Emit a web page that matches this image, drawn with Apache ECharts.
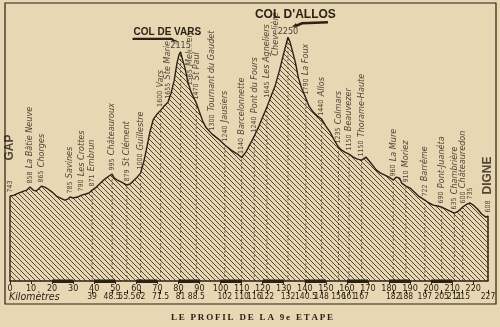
<!DOCTYPE html>
<html><head><meta charset="utf-8">
<script src="https://cdn.jsdelivr.net/npm/echarts@6/dist/echarts.min.js"></script>
<style>html,body{margin:0;padding:0;background:#e7d7b2;}#c{width:500px;height:327px;}</style>
</head><body><div id="c"></div>
<script>
// ---- profile (km, drawn altitude in m) ----
const profileKm = [0,2,4,6.5,8,9.5,11,12.5,14,15,16.5,18,20,22,24,26,27.5,28.5,30,32,34,36,37.5,39,41,43,45,47,48.5,49.5,51,53,55.5,57,58.5,60,62,63.5,65,66.5,68,70,71.5,73,75,76.5,78,79.3,80.2,81,82,83,84.5,86,88.5,90,91.5,93,96,99,102,105,108,110,112,114,116,118,120,122,124,126,128,130,131,132,133,134,135.5,137,138.5,140.5,142,144,146,148,150,152,154,156,157.5,159,161,163,165,167,169,171,172.5,174,176,178,180,182,183.5,185,186,188,190,192,194,197,199,201,203,205,207,209,211,213,215,217,218.5,220,222,224,226,227];
const profileAlt = [784,793,812,830,839,867,839,830,858,876,867,849,821,784,766,747,756,775,766,775,793,803,812,839,867,904,941,969,987,950,932,913,886,895,922,950,996,1098,1236,1380,1490,1545,1575,1610,1650,1734,1854,2011,2085,2115,2039,1974,1836,1743,1642,1559,1476,1420,1356,1310,1255,1208,1172,1140,1190,1264,1338,1420,1513,1605,1707,1808,1946,2103,2177,2250,2205,2131,2020,1873,1780,1688,1614,1559,1522,1494,1430,1375,1301,1236,1208,1190,1172,1144,1125,1116,1144,1098,1061,1024,996,978,959,932,959,950,904,876,858,821,784,747,720,701,692,683,664,646,627,646,683,710,720,701,664,618,590,600];

// ---- localities ----
const placeKm   = [0,9.5,15,28.5,34,39,48.5,55.5,62,71.5,75,85.5,88.5,96,102,110,116,122,126,140.5,148,156,161,167,182,188,197,205,211,215,218.5,227];
const placeAltTxt = ['743','858','865','785','790','871','995','879','1000','1600','1655','1565','1470','1300','1240','1140','1240','1645','','1790','1440','1235','1150','1150','960','910','722','690','635','600','735','608'];
const placeName = ['GAP','La Bâtie Neuve','Chorges','Savines','Les Crottes','Embrun','Châteauroux','St Clément','Guillestre','Vars','Ste Marie','Melezen','St Paul','Tournant du Gaudet','Jausiers','Barcelonnette','Pont du Fours','Les Agneliers','Chevelière','La Foux','Allos','Colmars','Beauvezer','Thorame-Haute','La Mure','Moriez','Barrême','Pont-Juanéta','Chambrière','Châteauredon','','DIGNE'];
const peakKm = [81,132];
const peakTxt = ['2115','2250'];
const peakName = ['COL DE VARS',"COL D'ALLOS"];

// ---- axes ----
const tickKm = [0,10,20,30,40,50,60,70,80,90,100,110,120,130,140,150,160,170,180,190,200,210,220];
const markKm = [39,48.5,55.5,62,71.5,81,88.5,102,110,116,122,132,140.5,148,156,161,167,182,188,197,205,211,215,227];
const scaleBarStart = [20,40,60,80,100,120,140,160,180,200];
const scaleBarLen = 10;

const INK = '#2b2118';
const FN = "'Liberation Sans Narrow','DejaVu Sans Condensed','Liberation Sans',sans-serif";
const labelLift = {'Chevelière':26,'Les Agneliers':6};

function altAt(k){
  for (let i=0;i<profileKm.length-1;i++){
    if (k>=profileKm[i] && k<=profileKm[i+1]){
      const t=(k-profileKm[i])/(profileKm[i+1]-profileKm[i]);
      return profileAlt[i]+t*(profileAlt[i+1]-profileAlt[i]);
    }
  }
  return profileAlt[profileAlt.length-1];
}
function hatch(){
  const s=5,c=document.createElement('canvas');c.width=c.height=s;
  const g=c.getContext('2d');g.strokeStyle='rgba(58,44,30,0.85)';g.lineWidth=1;
  g.beginPath();g.moveTo(0,0);g.lineTo(s,s);g.moveTo(-1,s-1);g.lineTo(1,s+1);g.moveTo(s-1,-1);g.lineTo(s+1,1);g.stroke();
  return c;
}

const lineData = [[profileKm[0],0]].concat(profileKm.map((k,i)=>[k,profileAlt[i]])).concat([[profileKm[profileKm.length-1],0]]);
const placeData = placeKm.map((k,i)=>{
  const it={value:[k,altAt(k)],num:placeAltTxt[i],nm:placeName[i]};
  if(labelLift[placeName[i]]) it.label={distance:3+labelLift[placeName[i]]};
  return it;
});
const dropData = markKm.map(k=>[k,altAt(k)]);
const barData = scaleBarStart.map(s=>[s,s+scaleBarLen]);
const peakData = peakKm.map((k,i)=>({value:[k,altAt(k)],num:peakTxt[i]}));

const chart = echarts.init(document.getElementById('c'),null,{renderer:'canvas'});
const option = {
  backgroundColor:'#e7d7b2',
  animation:false,
  grid:{left:10,right:12,top:21,bottom:46,outerBoundsMode:'none'},
  xAxis:[
    {type:'value',min:0,max:227,position:'bottom',
     axisLine:{show:true,lineStyle:{color:INK,width:1.5}},
     axisTick:{show:true,customValues:tickKm,length:3,lineStyle:{color:INK}},
     axisLabel:{customValues:tickKm,margin:3,fontSize:9,color:INK,fontFamily:FN},
     splitLine:{show:false}},
    {type:'value',min:0,max:227,position:'bottom',offset:9,
     axisLine:{show:false},
     axisTick:{show:true,customValues:markKm,length:4,lineStyle:{color:INK}},
     axisLabel:{customValues:markKm,margin:2,fontSize:8.5,color:INK,fontFamily:FN},
     splitLine:{show:false}}
  ],
  yAxis:{type:'value',min:0,max:2400,show:false},
  series:[
    {type:'line',data:lineData,symbol:'none',silent:true,z:2,
     lineStyle:{color:INK,width:1.4},
     areaStyle:{color:{image:hatch(),repeat:'repeat'},opacity:1}},
    {type:'custom',data:dropData,silent:true,z:3,
     renderItem:(params,api)=>{
       const p0=api.coord([api.value(0),0]),p1=api.coord([api.value(0),api.value(1)]);
       return {type:'line',shape:{x1:p0[0],y1:p0[1],x2:p1[0],y2:p1[1]},style:{stroke:'rgba(40,30,20,0.6)',lineWidth:1,lineDash:[2,2]}};
     }},
    {type:'custom',data:barData,silent:true,z:4,
     renderItem:(params,api)=>{
       const a=api.coord([api.value(0),0]),b=api.coord([api.value(1),0]);
       return {type:'rect',shape:{x:a[0],y:a[1]-1.5,width:b[0]-a[0],height:3.5},style:{fill:INK}};
     }},
    {type:'scatter',data:placeData,symbolSize:1,itemStyle:{color:'rgba(0,0,0,0)'},silent:true,z:5,
     label:{show:true,rotate:90,position:'top',distance:3,align:'left',verticalAlign:'middle',color:INK,
       formatter:p=>{const d=p.data;
         if(d.nm==='GAP') return `{n|${d.num}}{G|${d.nm}}`;
         if(d.nm==='DIGNE') return `{n|${d.num}}{D|${d.nm}}`;
         if(!d.nm) return `{n|${d.num}}`;
         if(!d.num) return `{t|${d.nm}}`;
         return `{n|${d.num}} {t|${d.nm}}`;},
       rich:{n:{fontSize:7,fontFamily:FN,color:INK},
             t:{fontSize:9,fontStyle:'italic',fontFamily:FN,color:INK},
             G:{fontSize:12,fontWeight:'bold',fontFamily:"'Liberation Sans',sans-serif",color:INK,padding:[0,0,0,20]},
             D:{fontSize:12,fontWeight:'bold',fontFamily:"'Liberation Sans',sans-serif",color:INK,padding:[0,0,0,6]}}}},
    {type:'scatter',data:peakData,symbolSize:1,itemStyle:{color:'rgba(0,0,0,0)'},silent:true,z:6,
     label:{show:true,position:'top',distance:1,color:INK,fontSize:9,fontFamily:FN,backgroundColor:'#e7d7b2',padding:[0,1],formatter:p=>p.data.num}}
  ]
};
chart.setOption(option);

function arrowHead(from,to,size){
  const dx=to[0]-from[0],dy=to[1]-from[1],L=Math.hypot(dx,dy),ux=dx/L,uy=dy/L;
  const bx=to[0]-ux*size,by=to[1]-uy*size;
  return [[to[0]+ux*2,to[1]+uy*2],[bx-uy*size*0.6,by+ux*size*0.6],[bx+uy*size*0.6,by-ux*size*0.6]];
}
const spaced = s => s.split('').join('\u2009');
const pv=chart.convertToPixel({xAxisIndex:0,yAxisIndex:0},[peakKm[0],altAt(peakKm[0])]);
const pa=chart.convertToPixel({xAxisIndex:0,yAxisIndex:0},[peakKm[1],altAt(peakKm[1])]);
const vPts=[[pv[0]-48,pv[1]-13],[pv[0]-9,pv[1]-13],[pv[0]-3,pv[1]-8]];
const aPts=[[pa[0]+40,pa[1]-15],[pa[0]+14,pa[1]-14],[pa[0]+5,pa[1]-10]];
chart.setOption({graphic:[
  {type:'rect',silent:true,z:-1,shape:{x:5,y:3,width:491,height:301},style:{fill:'none',stroke:INK,lineWidth:1.2}},
  {type:'text',silent:true,x:9,y:297,style:{text:'Kilomètres',fontSize:10.5,fontStyle:'italic',fontFamily:FN,fill:INK,verticalAlign:'middle'}},
  {type:'text',silent:true,x:252,y:318,style:{text:spaced('LE PROFIL DE LA 9e ETAPE'),fontSize:9,fontWeight:'bold',fontFamily:"'Liberation Serif',serif",fill:INK,align:'center',verticalAlign:'middle'}},
  {type:'text',silent:true,x:pv[0]-47,y:pv[1]-15,style:{text:peakName[0],fontSize:10,fontWeight:'bold',fontFamily:"'Liberation Sans',sans-serif",fill:INK,verticalAlign:'bottom'}},
  {type:'polyline',silent:true,shape:{points:vPts},style:{stroke:INK,lineWidth:2.2,fill:null}},
  {type:'polygon',silent:true,shape:{points:arrowHead(vPts[1],vPts[2],4)},style:{fill:INK}},
  {type:'text',silent:true,x:pa[0]-33,y:pa[1]-17,style:{text:peakName[1],fontSize:12,fontWeight:'bold',fontFamily:"'Liberation Sans',sans-serif",fill:INK,verticalAlign:'bottom'}},
  {type:'polyline',silent:true,shape:{points:aPts},style:{stroke:INK,lineWidth:2.5,fill:null}},
  {type:'polygon',silent:true,shape:{points:arrowHead(aPts[1],aPts[2],4.5)},style:{fill:INK}}
]});
</script></body></html>
